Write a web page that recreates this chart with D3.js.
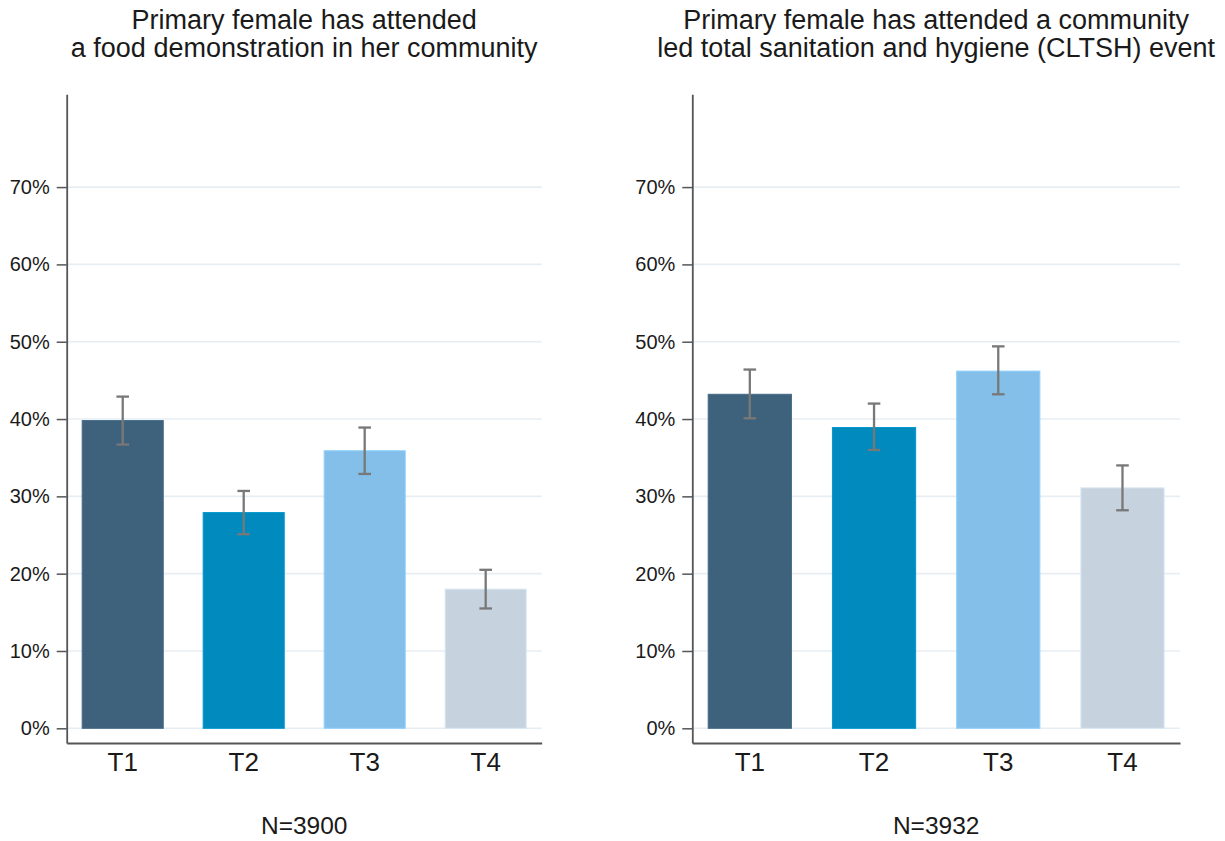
<!DOCTYPE html>
<html>
<head>
<meta charset="utf-8">
<script src="https://cdn.jsdelivr.net/npm/d3@7"></script>
<style>
  html, body { margin: 0; padding: 0; background: #fff; }
  svg { display: block; font-family: "Liberation Sans", Arial, sans-serif; }
</style>
</head>
<body>
<svg id="chart" width="1225" height="841"></svg>
<script>
// Treatment arms shown on the x axis
const categories = ["T1", "T2", "T3", "T4"];
const barColors = ["#3e627c", "#008abd", "#84bfe9", "#c6d3df"];

// Y axis ticks (percent)
const yTicks = [0, 10, 20, 30, 40, 50, 60, 70];

// Panel 1: attended a food demonstration
const foodTitle = ["Primary female has attended", "a food demonstration in her community"];
const foodMean  = [39.8, 27.9, 35.9, 18.0];
const foodLow   = [36.7, 25.1, 32.9, 15.5];
const foodHigh  = [42.9, 30.7, 38.9, 20.5];
const foodN = "N=3900";

// Panel 2: attended a CLTSH event
const cltshTitle = ["Primary female has attended a community", "led total sanitation and hygiene (CLTSH) event"];
const cltshMean  = [43.2, 38.9, 46.2, 31.1];
const cltshLow   = [40.1, 36.0, 43.2, 28.2];
const cltshHigh  = [46.4, 42.0, 49.4, 34.0];
const cltshN = "N=3932";

const svg = d3.select("#chart");

const yTop = 94.3, yBottom = 743;
const y = d3.scaleLinear().domain([-1.9, 82]).range([yBottom, yTop]);

function panel(x0, x1, title, mean, low, high, nLabel) {
  const g = svg.append("g");
  const x = d3.scaleBand().domain(categories).range([x0, x1])
    .paddingInner(0.33).paddingOuter(0.128);

  // horizontal gridlines
  g.append("g").selectAll("line").data(yTicks).join("line")
    .attr("x1", x0).attr("x2", x1)
    .attr("y1", d => y(d)).attr("y2", d => y(d))
    .attr("stroke", "#e6eef3").attr("stroke-width", 1.6);

  const rows = categories.map((c, i) => ({ c, i, v: mean[i], lo: low[i], hi: high[i] }));

  // bars
  g.append("g").selectAll("rect").data(rows).join("rect")
    .attr("x", d => x(d.c)).attr("width", x.bandwidth())
    .attr("y", d => y(d.v)).attr("height", d => y(0) - y(d.v))
    .attr("fill", d => barColors[d.i])
    .attr("stroke", d => d3.color(barColors[d.i]).brighter(0.25))
    .attr("stroke-width", 1);

  // confidence intervals
  const ci = g.append("g").attr("stroke", "#787878").attr("stroke-width", 2.3);
  const cx = d => x(d.c) + x.bandwidth() / 2;
  const cap = 6.3;
  ci.selectAll("line.v").data(rows).join("line").attr("class", "v")
    .attr("x1", cx).attr("x2", cx).attr("y1", d => y(d.lo)).attr("y2", d => y(d.hi));
  ci.selectAll("line.t").data(rows).join("line").attr("class", "t")
    .attr("x1", d => cx(d) - cap).attr("x2", d => cx(d) + cap)
    .attr("y1", d => y(d.hi)).attr("y2", d => y(d.hi));
  ci.selectAll("line.b").data(rows).join("line").attr("class", "b")
    .attr("x1", d => cx(d) - cap).attr("x2", d => cx(d) + cap)
    .attr("y1", d => y(d.lo)).attr("y2", d => y(d.lo));

  // y axis
  const ya = g.append("g").attr("transform", `translate(${x0},0)`)
    .call(d3.axisLeft(y).tickValues(yTicks).tickFormat(d => d + "%")
      .tickSize(10).tickSizeOuter(0).tickPadding(7));
  ya.select(".domain").attr("stroke", "#555").attr("stroke-width", 1.8);
  ya.selectAll(".tick line").attr("stroke", "#555").attr("stroke-width", 1.5);
  ya.selectAll(".tick text").attr("font-size", 20).attr("fill", "#1a1a1a")
    .attr("font-family", "Liberation Sans, Arial, sans-serif");

  // x axis
  const xa = g.append("g").attr("transform", `translate(0,${yBottom})`)
    .call(d3.axisBottom(x).tickSize(0).tickSizeOuter(0).tickPadding(10));
  xa.select(".domain").attr("stroke", "#555").attr("stroke-width", 1.8);
  xa.selectAll(".tick text").attr("font-size", 26).attr("fill", "#1a1a1a")
    .attr("font-family", "Liberation Sans, Arial, sans-serif");

  // title
  const mid = (x0 + x1) / 2;
  g.append("text").attr("x", mid).attr("text-anchor", "middle")
    .attr("font-size", 27).attr("fill", "#1a1a1a")
    .selectAll("tspan").data(title).join("tspan")
    .attr("x", mid).attr("y", (d, i) => 29 + i * 28).text(d => d);

  // sample size note
  g.append("text").attr("x", mid).attr("y", 834).attr("text-anchor", "middle")
    .attr("font-size", 24.5).attr("fill", "#1a1a1a").text(nLabel);
}

panel(66.7, 541.7, foodTitle, foodMean, foodLow, foodHigh, foodN);
panel(692.3, 1180, cltshTitle, cltshMean, cltshLow, cltshHigh, cltshN);
</script>
</body>
</html>
